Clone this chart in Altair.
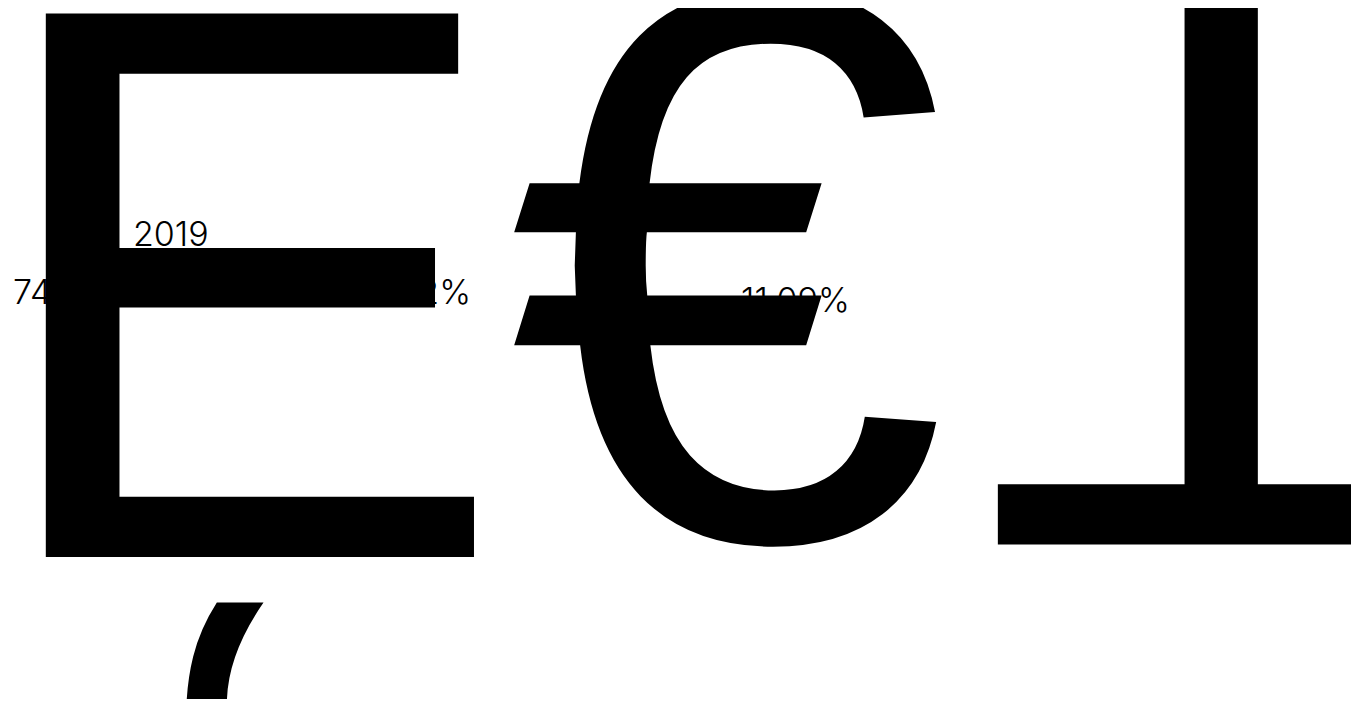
import altair as alt
import pandas as pd

# text content
big_glyphs = ["E", "\u20ac", "T", "\u2018"]
year_label = ["2019"]
share_labels = ["74.48%", "25.52%", "11.09%"]

BIG = 790
BIG_FONT = "Liberation Sans"
SMALL_FONT = "Inter"

def txt(value, **kw):
    return alt.Chart(pd.DataFrame({"t": [value]})).mark_text(**kw).encode(text="t:N")

small = dict(font=SMALL_FONT, fontSize=34, fontWeight=300, color="#000000", baseline="alphabetic")
big = dict(font=BIG_FONT, fontSize=BIG, fontWeight=400, color="#000000", baseline="alphabetic")

layers = [
    txt(year_label[0], align="left", **small).encode(x=alt.value(125), y=alt.value(238)),
    txt(share_labels[0], align="left", **small).encode(x=alt.value(5), y=alt.value(296)),
    txt(share_labels[1], align="right", **small).encode(x=alt.value(463), y=alt.value(296)),
    txt(share_labels[2], align="left", **small).encode(x=alt.value(733), y=alt.value(304)),
    txt(big_glyphs[0], align="left", **big).encode(x=alt.value(-27), y=alt.value(549)),
    txt(big_glyphs[1], align="left", **big).encode(x=alt.value(500), y=alt.value(531)),
    txt(big_glyphs[2], align="center", angle=180, **big).encode(x=alt.value(1213), y=alt.value(-7)),
    txt(big_glyphs[3], align="left", **big).encode(x=alt.value(129), y=alt.value(1138)),
]

chart = alt.layer(*layers).properties(
    width=1343, height=691, padding=0, autosize=alt.AutoSizeParams(type="none")
).configure_view(stroke=None)
chart.save("out.html", embed_options={"renderer": "svg", "actions": False})
